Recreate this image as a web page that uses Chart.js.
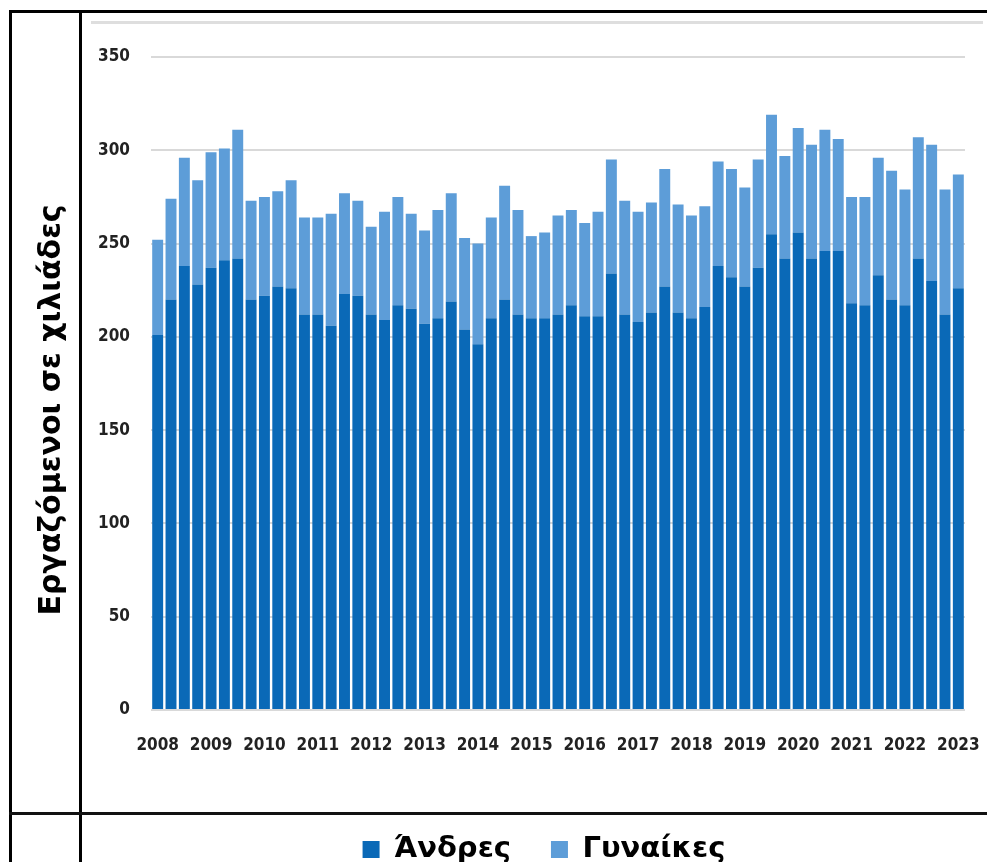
<!DOCTYPE html>
<html>
<head>
<meta charset="utf-8">
<script src="https://cdn.jsdelivr.net/npm/chart.js@4.4.1/dist/chart.umd.min.js"></script>
<style>
  html, body { margin: 0; padding: 0; background: #fff; overflow: hidden; }
  body { width: 987px; height: 862px; position: relative; }
  #wrap { position: absolute; left: 0; top: 12px; width: 987px; height: 862px; }
  .line { position: absolute; background: #000; z-index: 2; }
</style>
</head>
<body>
<div id="wrap"><canvas id="workersChart"></canvas></div>

<!-- table frame around the picture -->
<div class="line" style="left:9px; top:10px; width:978px; height:3px;"></div>
<div class="line" style="left:9px; top:10px; width:3px; height:852px;"></div>
<div class="line" style="left:79px; top:10px; width:3px; height:852px;"></div>
<div class="line" style="left:9px; top:812px; width:978px; height:3px; background:#111;"></div>
<div class="line" style="left:91px; top:21px; width:892px; height:3px; background:#dedede;"></div>

<script>
// years shown on the x axis, one bar per quarter (2008 Q1 .. 2023 Q1)
const years = ['2008', '2009', '2010', '2011', '2012', '2013', '2014', '2015',
  '2016', '2017', '2018', '2019', '2020', '2021', '2022', '2023'];
const quarters = ['Q1', 'Q2', 'Q3', 'Q4'];

// employed, thousands
const men = [201, 220, 238, 228, 237, 241, 242, 220, 222, 227, 226, 212, 212, 206, 223, 222,
  212, 209, 217, 215, 207, 210, 219, 204, 196, 210, 220, 212, 210, 210, 212, 217,
  211, 211, 234, 212, 208, 213, 227, 213, 210, 216, 238, 232, 227, 237, 255, 242,
  256, 242, 246, 246, 218, 217, 233, 220, 217, 242, 230, 212, 226];
const women = [51, 54, 58, 56, 62, 60, 69, 53, 53, 51, 58, 52, 52, 60, 54, 51,
  47, 58, 58, 51, 50, 58, 58, 49, 54, 54, 61, 56, 44, 46, 53, 51,
  50, 56, 61, 61, 59, 59, 63, 58, 55, 54, 56, 58, 53, 58, 64, 55,
  56, 61, 65, 60, 57, 58, 63, 69, 62, 65, 73, 67, 61];

const yTicks = [0, 50, 100, 150, 200, 250, 300, 350];
const yTitle = 'Εργαζόμενοι σε χιλιάδες';

const categories = [];
years.forEach(y => quarters.forEach(q => categories.push(y + ' ' + q)));
categories.length = men.length;

// axis title sits in its own table cell, a bit below the middle of the plot
const sideTitle = {
  id: 'sideTitle',
  afterLayout(chart) {
    // legend row is centred on the lower table cell, not on the plot
    chart.legend.left -= 14;
    chart.legend.right -= 14;
  },
  afterDraw(chart) {
    const ctx = chart.ctx;
    ctx.save();
    ctx.translate(52, 398);
    ctx.rotate(-Math.PI / 2);
    ctx.textAlign = 'center';
    ctx.textBaseline = 'middle';
    ctx.fillStyle = '#000';
    ctx.font = 'bold 30px "DejaVu Sans"';
    ctx.fillText(yTitle, 0, 0);
    ctx.restore();
  }
};

const workersChart = document.getElementById('workersChart');

const workersChart_1 = new Chart(workersChart, {
  type: 'bar',
  data: {
    labels: categories,
    datasets: [
      {
        label: 'Άνδρες',
        data: men,
        backgroundColor: '#0a69b7',
        borderWidth: 0,
      },
      {
        label: 'Γυναίκες',
        data: women,
        backgroundColor: '#5d9dd8',
        borderWidth: 0,
      }
    ],
  },
  options: {
    responsive: true,
    maintainAspectRatio: false,
    animation: false,
    datasets: {
      bar: {
        categoryPercentage: 1,
        barPercentage: 0.82,
      }
    },
    layout: {
      padding: { left: 0, right: 0, top: 45, bottom: 0 }
    },
    scales: {
      x: {
        stacked: true,
        afterFit: (axis) => {
          axis.height = 85;
          axis.paddingRight = 22;
        },
        grid: {
          display: false,
        },
        border: { display: false },
        ticks: {
          autoSkip: false,
          maxRotation: 0,
          padding: 17,
          color: '#222',
          font: { family: 'DejaVu Sans Condensed', weight: 'bold', size: 17 },
          callback: (v, i) => (i % 4 === 0 ? years[i / 4] : ''),
        }
      },
      y: {
        stacked: true,
        min: yTicks[0],
        max: yTicks[yTicks.length - 1],
        afterFit: (axis) => { axis.width = 151; },
        afterBuildTicks: (axis) => { axis.ticks = yTicks.map(v => ({ value: v })); },
        grid: {
          color: '#d9d9d9',
          lineWidth: 2,
          drawTicks: false,
        },
        border: { display: false },
        ticks: {
          padding: 21,
          color: '#222',
          font: { family: 'DejaVu Sans Condensed', weight: 'bold', size: 17 },
        }
      }
    },
    plugins: {
      legend: {
        display: true,
        position: 'bottom',
        fullSize: false,
        labels: {
          boxWidth: 17,
          boxHeight: 17,
          padding: 40,
          color: '#000',
          font: { family: 'DejaVu Sans', weight: 'bold', size: 29 },
        }
      },
      tooltip: { enabled: false }
    }
  },
  plugins: [sideTitle],
});
</script>
</body>
</html>
